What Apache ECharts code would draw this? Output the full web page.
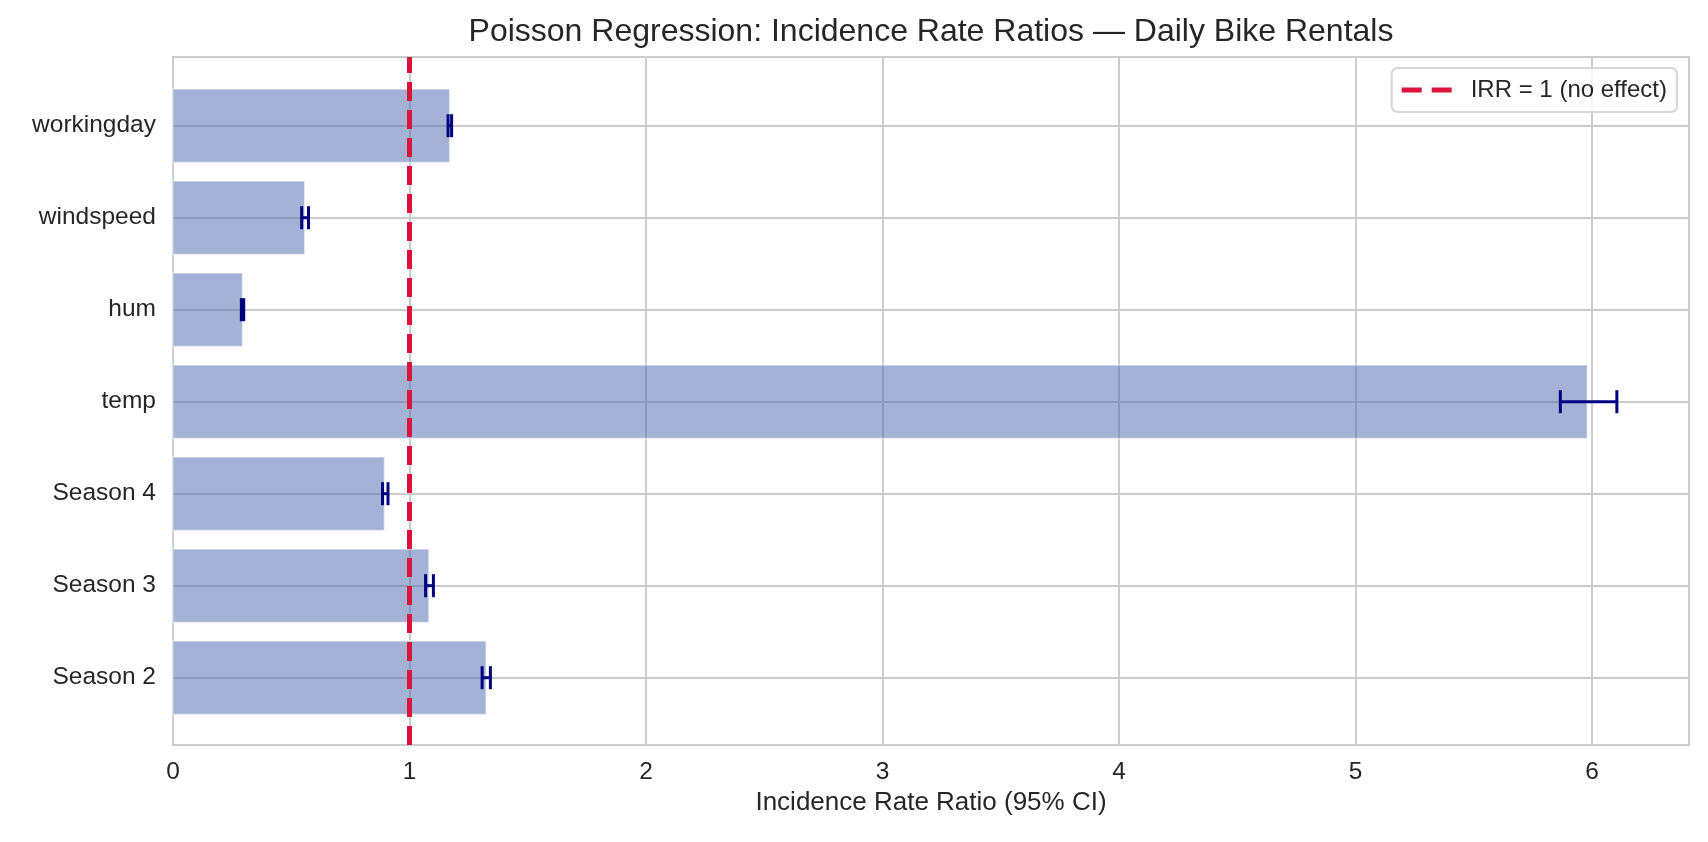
<!DOCTYPE html>
<html>
<head>
<meta charset="utf-8">
<script src="https://cdn.jsdelivr.net/npm/echarts@6/dist/echarts.min.js"></script>
<style>
  html, body { margin: 0; padding: 0; background: #ffffff; }
  #chart { width: 1708px; height: 842px; }
</style>
</head>
<body>
<div id="chart"></div>
<script>
// categories listed bottom -> top, as on the chart
var categories = ['Season 2', 'Season 3', 'Season 4', 'temp', 'hum', 'windspeed', 'workingday'];
var irr    = [1.324, 1.082, 0.894, 5.980, 0.294, 0.557, 1.170];
var ciLow  = [1.307, 1.068, 0.886, 5.866, 0.289, 0.544, 1.163];
var ciHigh = [1.342, 1.101, 0.909, 6.105, 0.299, 0.573, 1.178];
var xTicks = [0, 1, 2, 3, 4, 5, 6];
var refValue = 1;
var refName = 'IRR = 1 (no effect)';

var textColor = '#262626';
var gridColor = '#cccccc';
var fontFamily = '"Liberation Sans", Arial, sans-serif';

var rows = [];
for (var i = 0; i < categories.length; i++) {
    rows.push([i, irr[i], ciLow[i], ciHigh[i]]);
}

// horizontal bar from 0 to the IRR
function renderBar(params, api) {
    var y = api.value(0);
    var p0 = api.coord([0, y]);
    var p1 = api.coord([api.value(1), y]);
    var h = api.size([0, 0.8])[1];
    return {
        type: 'rect',
        shape: { x: p0[0], y: p0[1] - h / 2, width: p1[0] - p0[0], height: h },
        style: { fill: 'rgba(74,101,172,0.5)', stroke: 'rgba(255,255,255,0.55)', lineWidth: 1.5 }
    };
}

// 95% CI whisker with caps
function renderErr(params, api) {
    var y = api.value(0);
    var lo = api.coord([api.value(2), y]);
    var hi = api.coord([api.value(3), y]);
    var cap = 11.5;
    var st = { stroke: '#000080', lineWidth: 3 };
    return {
        type: 'group',
        children: [
            { type: 'line', shape: { x1: lo[0], y1: lo[1], x2: hi[0], y2: hi[1] }, style: st },
            { type: 'line', shape: { x1: lo[0], y1: lo[1] - cap, x2: lo[0], y2: lo[1] + cap }, style: st },
            { type: 'line', shape: { x1: hi[0], y1: hi[1] - cap, x2: hi[0], y2: hi[1] + cap }, style: st }
        ]
    };
}

var chart = echarts.init(document.getElementById('chart'), null, { renderer: 'canvas' });

var option = {
    backgroundColor: '#ffffff',
    animation: false,
    textStyle: { fontFamily: fontFamily },
    title: {
        text: 'Poisson Regression: Incidence Rate Ratios \u2014 Daily Bike Rentals',
        left: 931,
        top: 16,
        textAlign: 'center',
        padding: 0,
        textStyle: { fontSize: 32, fontWeight: 'normal', color: textColor, fontFamily: fontFamily }
    },
    legend: {
        data: [{ name: refName, icon: 'path://M0,0H20V5H0Z M30,0H50V5H30Z' }],
        right: 31,
        top: 68,
        orient: 'vertical',
        itemWidth: 50,
        itemHeight: 5,
        padding: [10, 10, 10, 10],
        backgroundColor: 'rgba(255,255,255,0.8)',
        borderColor: '#d6d6d6',
        borderWidth: 2,
        borderRadius: 6,
        textStyle: { fontSize: 24, color: textColor, fontFamily: fontFamily, padding: [0, 0, 0, 14], lineHeight: 24 }
    },
    grid: [
        // inner grid: category centres sit on integer y values
        { left: 173, right: 19, top: 125.7, bottom: 164.3, containLabel: false },
        // outer grid: the full plot frame
        { left: 173, right: 19, top: 57, bottom: 97, containLabel: false, show: true,
          borderColor: gridColor, borderWidth: 2, backgroundColor: 'transparent' }
    ],
    xAxis: [
        { gridIndex: 0, type: 'value', min: 0, max: 6.41, show: false },
        {
            gridIndex: 1, type: 'value', min: 0, max: 6.41, interval: 1,
            axisLine: { show: false }, axisTick: { show: false },
            splitLine: { show: true, lineStyle: { color: gridColor, width: 2 } },
            axisLabel: {
                fontSize: 24.5, color: textColor, margin: 15, fontFamily: fontFamily,
                formatter: function (v) { return xTicks.indexOf(v) >= 0 ? String(v) : ''; }
            },
            name: 'Incidence Rate Ratio (95% CI)',
            nameLocation: 'middle',
            nameGap: 45,
            nameTextStyle: { fontSize: 26, color: textColor, fontFamily: fontFamily }
        }
    ],
    yAxis: [
        {
            gridIndex: 0, type: 'value', min: 0, max: categories.length - 1, interval: 1,
            axisLine: { show: false }, axisTick: { show: false },
            splitLine: { show: true, lineStyle: { color: gridColor, width: 2 } },
            axisLabel: {
                fontSize: 24.5, color: textColor, margin: 17, fontFamily: fontFamily,
                formatter: function (v) { return categories[Math.round(v)] || ''; }
            }
        },
        { gridIndex: 1, type: 'value', min: -0.74, max: 6.74, show: false }
    ],
    series: [
        {
            name: 'IRR',
            type: 'custom',
            xAxisIndex: 0, yAxisIndex: 0,
            renderItem: renderBar,
            encode: { x: [1, 2, 3], y: 0 },
            data: rows,
            z: 2
        },
        {
            name: 'CI',
            type: 'custom',
            xAxisIndex: 0, yAxisIndex: 0,
            renderItem: renderErr,
            encode: { x: [1, 2, 3], y: 0 },
            data: rows,
            z: 3
        },
        {
            name: refName,
            type: 'line',
            xAxisIndex: 1, yAxisIndex: 1,
            symbol: 'none',
            color: '#dc143c',
            lineStyle: { color: '#dc143c', width: 5, type: [19, 9] },
            data: [[refValue, -0.74], [refValue, 6.74]],
            z: 4
        }
    ]
};

chart.setOption(option);
</script>
</body>
</html>
